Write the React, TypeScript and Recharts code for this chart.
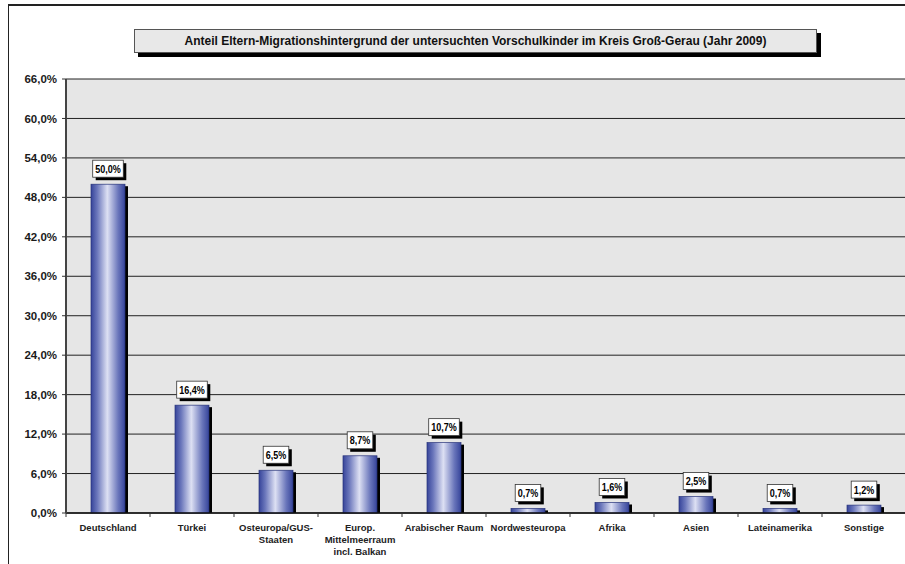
import { Bar, BarChart, CartesianGrid, LabelList, XAxis, YAxis } from "recharts";

const regions = [
  "Deutschland",
  "Türkei",
  "Osteuropa/GUS-\nStaaten",
  "Europ.\nMittelmeerraum\nincl. Balkan",
  "Arabischer Raum",
  "Nordwesteuropa",
  "Afrika",
  "Asien",
  "Lateinamerika",
  "Sonstige",
];
const shares = [50.0, 16.4, 6.5, 8.7, 10.7, 0.7, 1.6, 2.5, 0.7, 1.2];
const yTicks = [0, 6, 12, 18, 24, 30, 36, 42, 48, 54, 60, 66];

const title =
  "Anteil Eltern-Migrationshintergrund der untersuchten Vorschulkinder im Kreis Groß-Gerau (Jahr 2009)";

const data = regions.map((region, i) => ({ region, share: shares[i] }));

const pct = (v: number) => `${v.toFixed(1).replace(".", ",")}%`;

const HALF_BAND = 42;

// the labels in the original use a condensed face, so squeeze the text to this width
const labelWidth = (s: string) => {
  let w = 0;
  for (const ch of s) w += ch === "," ? 3.1 : ch === "%" ? 9.8 : 6.1;
  return w * 0.82;
};

const BarShape = (props: any) => {
  const { x, y, width, height } = props;
  if (!height || height <= 0) return null;
  return (
    <g>
      <rect x={x + 3} y={y + 2} width={width} height={Math.max(height - 2, 0)} fill="#000" />
      <rect
        x={x}
        y={y}
        width={width}
        height={height}
        fill="url(#barGrad)"
        stroke="#27337a"
        strokeWidth={0.7}
      />
    </g>
  );
};

const ValueLabel = (props: any) => {
  const { x, y, width, value } = props;
  const text = pct(Number(value));
  const tw = labelWidth(text);
  const bw = tw + 5;
  const bh = 17;
  const cx = x + width / 2;
  const top = y - 24;
  return (
    <g>
      <rect x={cx - bw / 2 + 3} y={top + 3} width={bw} height={bh} fill="#000" />
      <rect x={cx - bw / 2} y={top} width={bw} height={bh} fill="#fff" stroke="#333" strokeWidth={0.8} />
      <text
        x={cx}
        y={top + 12.5}
        textAnchor="middle"
        fontSize={11.5}
        fontWeight="bold"
        fontFamily="Arial, 'Liberation Sans', sans-serif"
        textLength={tw}
        lengthAdjust="spacingAndGlyphs"
        fill="#000"
      >
        {text}
      </text>
    </g>
  );
};

const RegionTick = (props: any) => {
  const { x, y, payload } = props;
  const lines = String(payload.value).split("\n");
  return (
    <g>
      <line x1={x - HALF_BAND} x2={x - HALF_BAND} y1={y} y2={y + 4} stroke="#333" />
      <text
        x={x}
        y={y + 18}
        textAnchor="middle"
        fontSize={9.5}
        fontWeight="bold"
        fontFamily="Arial, 'Liberation Sans', sans-serif"
        fill="#222"
      >
        {lines.map((l, i) => (
          <tspan key={i} x={x} dy={i === 0 ? 0 : 12}>
            {l}
          </tspan>
        ))}
      </text>
    </g>
  );
};

export default function App() {
  return (
    <div style={{ position: "relative", width: 905, height: 564, background: "#fff", overflow: "hidden" }}>
      <style>{"body{margin:0}"}</style>
      <div
        style={{
          position: "absolute",
          left: 8,
          top: 4,
          width: 920,
          height: 600,
          borderTop: "2px solid #222",
          borderLeft: "1.5px solid #222",
        }}
      />
      <BarChart
        width={906}
        height={564}
        data={data}
        margin={{ top: 79, right: 0, left: 0, bottom: 0 }}
        barSize={34}
        style={{ position: "absolute", left: 0, top: 0 }}
      >
        <defs>
          <linearGradient id="barGrad" x1="0" y1="0" x2="1" y2="0">
            <stop offset="0%" stopColor="#36449a" />
            <stop offset="18%" stopColor="#6a76bb" />
            <stop offset="48%" stopColor="#dde0f3" />
            <stop offset="80%" stopColor="#6a76bb" />
            <stop offset="100%" stopColor="#36449a" />
          </linearGradient>
        </defs>
        <CartesianGrid
          vertical={false}
          stroke="#222"
          strokeWidth={1}
          fill="#e6e6e6"
          fillOpacity={1}
        />
        <XAxis
          dataKey="region"
          height={51}
          interval={0}
          tickLine={false}
          tickSize={0}
          tickMargin={0}
          axisLine={{ stroke: "#111", strokeWidth: 1.5 }}
          tick={<RegionTick />}
        />
        <YAxis
          width={66}
          domain={[0, 66]}
          ticks={yTicks}
          interval={0}
          tickFormatter={pct}
          tickSize={4}
          tickMargin={5}
          axisLine={{ stroke: "#444", strokeWidth: 2 }}
          tickLine={{ stroke: "#333" }}
          tick={{ fontSize: 11.5, fontWeight: "bold", fill: "#1a1a1a", fontFamily: "Arial, 'Liberation Sans', sans-serif" }}
        />
        <Bar dataKey="share" shape={<BarShape />} isAnimationActive={false}>
          <LabelList dataKey="share" content={<ValueLabel />} />
        </Bar>
      </BarChart>
      <div
        style={{
          position: "absolute",
          left: 134,
          top: 29,
          width: 681,
          height: 22,
          background: "#e8e8e8",
          border: "1px solid #555",
          boxShadow: "4px 4px 0 #000",
          fontFamily: "Arial, 'Liberation Sans', sans-serif",
          fontWeight: "bold",
          fontSize: 12,
          lineHeight: "22px",
          textAlign: "center",
          color: "#111",
          whiteSpace: "nowrap",
        }}
      >
        {title}
      </div>
    </div>
  );
}
